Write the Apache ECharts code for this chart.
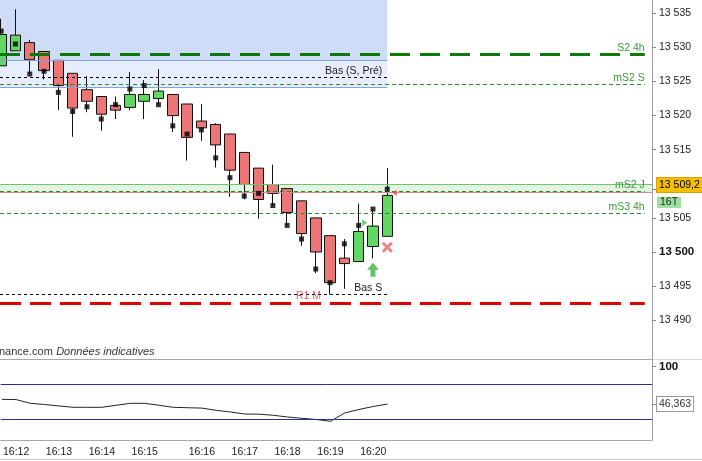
<!DOCTYPE html>
<html><head><meta charset="utf-8">
<script src="https://cdn.jsdelivr.net/npm/echarts@6/dist/echarts.min.js"></script>
<style>html,body{margin:0;padding:0;background:#fff}#c{width:702px;height:461px}</style>
</head><body><div id="c"></div>
<script>
// ---- data ----
const opens  = [13527.3,13529.5,13530.7,13529.4,13528.1,13526.2,13523.8,13522.8,13521.5,13521.2,13522.1,13522.5,13523.1,13521.7,13519.2,13518.7,13517.3,13514.6,13512.3,13509.9,13509.3,13507.5,13505.0,13502.4,13499.1,13498.6,13500.8,13502.3];
const closes = [13531.9,13531.8,13528.2,13526.6,13524.4,13521.1,13522.1,13520.2,13520.8,13523.1,13523.1,13523.6,13520.0,13516.8,13518.2,13515.7,13512.0,13509.9,13507.7,13508.6,13505.8,13502.7,13500.0,13495.5,13498.3,13503.0,13503.8,13508.3];
const lows   = [13527.3,13529.5,13526.1,13525.3,13520.8,13516.9,13520.5,13517.8,13519.5,13520.8,13519.5,13521.6,13517.6,13513.4,13516.3,13512.4,13508.1,13507.7,13504.9,13506.8,13503.9,13500.9,13496.9,13493.8,13494.6,13498.6,13499.1,13502.3];
const highs  = [13534.2,13535.6,13531.1,13529.4,13528.1,13526.2,13525.8,13522.8,13522.8,13526.4,13525.2,13526.8,13523.1,13521.7,13521.7,13518.9,13517.3,13514.6,13512.3,13512.8,13509.3,13507.5,13505.0,13502.4,13501.9,13507.1,13506.3,13512.3];
const dots   = [13532.4,13530.5,13526.1,13526.5,13523.4,13520.6,13521.3,13519.5,13521.6,13523.9,13524.4,13521.6,13518.5,13517.3,13517.9,13513.8,13510.9,13508.2,13508.6,13506.8,13503.9,13501.9,13497.5,13495.5,13501.2,13503.9,13506.3,13509.2];
const oscillator = [53.1,52.7,47.4,45.7,43.6,41.7,41.7,41.7,44.6,47.4,47.4,44.6,41.7,41.1,40.6,37.4,35.0,32.1,31.9,30.3,27.9,26.0,24.3,21.7,33.6,38.6,42.9,46.4];
const oscillatorLast = 46.363;
const oscLevels = [75, 25];
const timeTickIndex = [1,4,7,10,14,17,20,23,26];
const timeTickLabels = ['16:12','16:13','16:14','16:15','16:16','16:17','16:18','16:19','16:20'];
const priceTicks = [13490,13495,13500,13505,13515,13520,13525,13530,13535];
const lastPrice = 13509.2;
const timeLeft = '16T';
// support / resistance levels
const greenLevelNames  = ['S2 4h','mS2 S','mS2 J','mS3 4h'];
const greenLevelValues = [13529.0,13524.6,13508.9,13505.7];
const zoneTop = 13537, zoneMid = 13528.1, zoneBottom = 13524.15, zoneEndIndex = 27;
const basSPre = 13525.6, basS = 13493.8, r1M = 13492.52;
const bandTop = 13509.87, bandBottom = 13508.8, redThin = 13508.7;
const signalRightTri = [25, 13504.3], signalArrow = [26, 13497.4], signalCross = [27, 13500.7], signalLeftTri = [27, 13508.7];
const xMin = -0.08, xMax = 45.51, levelEndIndex = 45;

// ---- chart ----
const FONT = "Arial, 'Liberation Sans', sans-serif";
const fmtPrice = v => {
  const parts = String(v).split('.');
  const ip = parts[0];
  return ip.slice(0, ip.length - 3) + ' ' + ip.slice(-3) + (parts[1] ? ',' + parts[1] : '');
};
const chart = echarts.init(document.getElementById('c'));

const levelLines = [];
greenLevelNames.forEach((n, i) => {
  const big = i === 0;
  levelLines.push([
    {xAxis: xMin, yAxis: greenLevelValues[i],
     lineStyle: big ? {color: '#0b7a0b', width: 3, type: [20, 10]} : {color: '#2b8a2b', width: 1, type: [4, 3]},
     label: {show: true, formatter: n, position: 'insideEndTop', distance: [0, 1], color: '#3a9a3a', fontSize: 10.5, fontFamily: FONT}},
    {xAxis: levelEndIndex, yAxis: greenLevelValues[i]}
  ]);
});
levelLines.push([
  {xAxis: xMin, yAxis: basSPre, lineStyle: {color: '#000', width: 1, type: [3, 3]},
   label: {show: true, formatter: 'Bas (S, Pré)', position: 'insideEndTop', distance: [5, 1], color: '#222', fontSize: 10.5, fontFamily: FONT}},
  {xAxis: zoneEndIndex, yAxis: basSPre}
]);
levelLines.push([
  {xAxis: xMin, yAxis: basS, lineStyle: {color: '#000', width: 1, type: [3, 3]},
   label: {show: true, formatter: 'Bas S', position: 'insideEndTop', distance: [5, 1], color: '#222', fontSize: 10.5, fontFamily: FONT}},
  {xAxis: zoneEndIndex, yAxis: basS}
]);
levelLines.push([
  {xAxis: xMin, yAxis: r1M, lineStyle: {color: '#e00000', width: 3, type: [21, 9]}, label: {show: false}},
  {xAxis: levelEndIndex, yAxis: r1M}
]);
// zone borders
levelLines.push([{xAxis: xMin, yAxis: zoneMid, lineStyle: {color: '#7fa3e3', width: 1, type: 'solid'}, label: {show: false}}, {xAxis: zoneEndIndex, yAxis: zoneMid}]);
levelLines.push([{xAxis: xMin, yAxis: zoneBottom, lineStyle: {color: '#7fa3e3', width: 1, type: 'solid'}, label: {show: false}}, {xAxis: zoneEndIndex, yAxis: zoneBottom}]);
levelLines.push([{xAxis: zoneEndIndex, yAxis: zoneTop, lineStyle: {color: '#7fa3e3', width: 1, type: 'solid'}, label: {show: false}}, {xAxis: zoneEndIndex, yAxis: zoneBottom}]);
// band lines
levelLines.push({yAxis: bandTop, lineStyle: {color: '#72c472', width: 1, type: 'solid'}, label: {show: false}});
levelLines.push({yAxis: redThin, lineStyle: {color: '#cf8a8a', width: 1, type: 'solid'}, label: {show: false}});
// last price tag
levelLines.push({yAxis: lastPrice, lineStyle: {color: 'transparent', width: 0},
  label: {show: true, position: 'end', distance: 5, padding: [9, 0, 0, 0],
    formatter: '{p|' + fmtPrice(lastPrice) + '}\n{t|' + timeLeft + '}',
    rich: {
      p: {backgroundColor: '#f5c000', borderColor: '#d8a200', borderWidth: 1, padding: [2, 2, 1, 2], color: '#000', fontSize: 10.5, fontFamily: FONT, lineHeight: 17.5},
      t: {backgroundColor: '#9ee19e', padding: [0, 3], color: '#222', fontSize: 10.5, fontFamily: FONT, lineHeight: 17.5}
    }}});

const option = {
  animation: false,
  textStyle: {fontFamily: FONT},
  graphic: [
    {type: 'text', left: -1, top: 346, style: {text: '{a|nance.com} {b|Données indicatives}', rich: {a: {fontSize: 11, fill: '#333', fontFamily: FONT}, b: {fontSize: 11, fill: '#333', fontStyle: 'italic', fontFamily: FONT}}}},
    {type: 'line', shape: {x1: 652, y1: 359.5, x2: 702, y2: 359.5}, style: {stroke: '#dcdcdc', lineWidth: 1}},
    {type: 'line', shape: {x1: 0, y1: 459.5, x2: 702, y2: 459.5}, style: {stroke: '#c8c8c8', lineWidth: 1}}
  ],
  grid: [
    {left: 0, right: 50, top: 0, height: 359},
    {left: 0, right: 50, top: 359, height: 81}
  ],
  xAxis: [
    {type: 'value', gridIndex: 0, min: xMin, max: xMax, position: 'bottom', splitLine: {show: false},
     axisLine: {show: true, onZero: false, lineStyle: {color: '#a8a8a8'}}, axisTick: {show: false}, axisLabel: {show: false}},
    {type: 'value', gridIndex: 1, min: xMin, max: xMax, position: 'bottom', splitLine: {show: false},
     axisLine: {show: true, onZero: false, lineStyle: {color: '#a8a8a8'}}, axisTick: {show: false},
     axisLabel: {customValues: timeTickIndex, formatter: v => timeTickLabels[timeTickIndex.indexOf(v)] || '',
       fontSize: 10.5, color: '#222', margin: 7, fontFamily: FONT}}
  ],
  yAxis: [
    {type: 'value', gridIndex: 0, position: 'right', min: 13484.31, max: 13536.95, splitLine: {show: false},
     axisLine: {show: true, onZero: false, lineStyle: {color: '#a0a0a0'}},
     axisTick: {show: true, length: 4, lineStyle: {color: '#888'}, customValues: priceTicks.concat([lastPrice])},
     axisLabel: {customValues: priceTicks, margin: 7, fontSize: 10.5, color: '#222', fontFamily: FONT,
       formatter: v => v % 100 === 0 ? '{b|' + fmtPrice(v) + '}' : fmtPrice(v),
       rich: {b: {fontWeight: 'bold', fontSize: 11.5, color: '#111', fontFamily: FONT}}}},
    {type: 'value', gridIndex: 1, position: 'right', min: -5, max: 110.71, splitLine: {show: false},
     axisLine: {show: true, onZero: false, lineStyle: {color: '#a0a0a0'}},
     axisTick: {show: true, length: 4, lineStyle: {color: '#888'}, customValues: [100, oscillatorLast]},
     axisLabel: {customValues: [100], margin: 7, fontSize: 11.5, fontWeight: 'bold', color: '#111', fontFamily: FONT}}
  ],
  series: [
    {type: 'candlestick', xAxisIndex: 0, yAxisIndex: 0, barWidth: 11,
     data: opens.map((o, i) => [i, o, closes[i], lows[i], highs[i]]),
     itemStyle: {color: '#62d862', color0: '#ec7676', borderColor: '#111', borderColor0: '#111', borderWidth: 1},
     markArea: {silent: true, data: [
       [{yAxis: zoneTop, itemStyle: {color: '#cfdcf8', borderWidth: 0}}, {xAxis: zoneEndIndex, yAxis: zoneMid}],
       [{yAxis: zoneMid, itemStyle: {color: '#e6edfc', borderWidth: 0}}, {xAxis: zoneEndIndex, yAxis: zoneBottom}],
       [{yAxis: bandTop, itemStyle: {color: '#e0f4e0', borderWidth: 0}}, {yAxis: bandBottom}]
     ]},
     markLine: {silent: true, symbol: ['none', 'none'], animation: false, data: levelLines}
    },
    {type: 'scatter', xAxisIndex: 0, yAxisIndex: 0, symbol: 'rect', symbolSize: 5, itemStyle: {color: '#000'},
     data: dots.map((v, i) => [i, v]), z: 5},
    {type: 'scatter', xAxisIndex: 0, yAxisIndex: 0, z: 6, data: [
      {value: signalRightTri, symbol: 'path://M0,0 L6,4 L0,8 Z', symbolSize: [5, 7], symbolOffset: [6, 0], itemStyle: {color: '#4cc24c'}},
      {value: signalArrow, symbol: 'path://M6,0 L12,7 L8.5,7 L8.5,14 L3.5,14 L3.5,7 L0,7 Z', symbolSize: [12, 14], itemStyle: {color: '#3cb43c'}},
      {value: signalCross, symbol: 'path://M2,0 L5.5,3.5 L9,0 L11,2 L7.5,5.5 L11,9 L9,11 L5.5,7.5 L2,11 L0,9 L3.5,5.5 L0,2 Z', symbolSize: [11, 11], itemStyle: {color: '#e86262'}},
      {value: signalLeftTri, symbol: 'path://M6,0 L0,4 L6,8 Z', symbolSize: [5, 6], symbolOffset: [7, 0], itemStyle: {color: '#e05050'}}
    ]},
    {type: 'scatter', xAxisIndex: 0, yAxisIndex: 0, z: 7, symbolSize: 1, itemStyle: {color: 'transparent'},
     data: [{value: [21, r1M], label: {show: true, formatter: 'R1 M', position: 'top', distance: 1, offset: [7, 0], color: '#e03030', fontSize: 10.5, fontFamily: FONT}}]},
    {type: 'line', xAxisIndex: 1, yAxisIndex: 1, data: oscillator.map((v, i) => [i, v]), symbol: 'none',
     lineStyle: {color: '#222', width: 1},
     markLine: {silent: true, symbol: ['none', 'none'], animation: false, data: [
       ...oscLevels.map(v => ({yAxis: v, lineStyle: {color: '#2e2e90', width: 1, type: 'solid'}, label: {show: false}})),
       {yAxis: oscillatorLast, lineStyle: {color: 'transparent', width: 0},
        label: {show: true, position: 'end', distance: 5, formatter: String(oscillatorLast).replace('.', ','),
          backgroundColor: '#fff', borderColor: '#999', borderWidth: 1, padding: [2, 2, 1, 2], color: '#333', fontSize: 10.5, fontFamily: FONT}}
     ]}}
  ]
};
chart.setOption(option);
</script>
</body></html>
